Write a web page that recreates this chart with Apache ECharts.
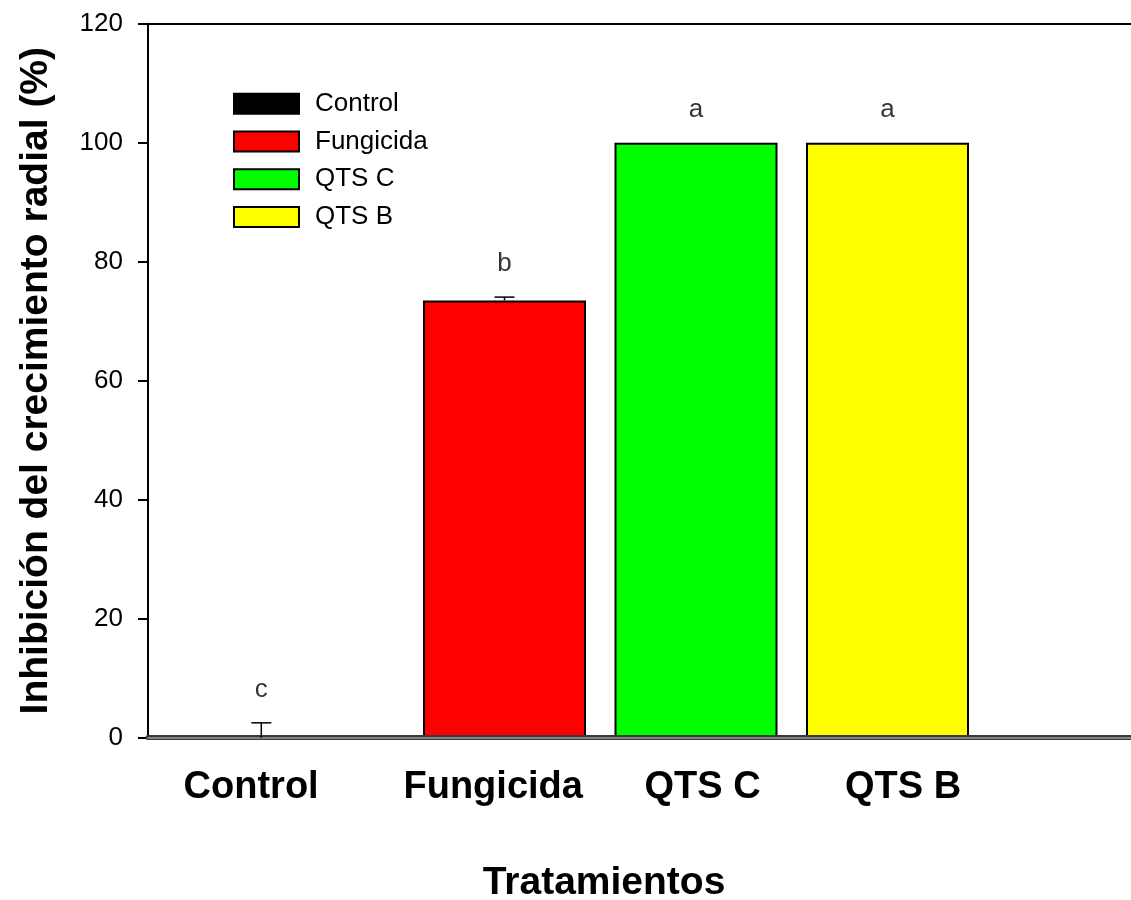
<!DOCTYPE html>
<html>
<head>
<meta charset="utf-8">
<script src="https://cdn.jsdelivr.net/npm/echarts@6/dist/echarts.min.js"></script>
<style>
  html, body { margin: 0; padding: 0; background: #fff; }
  #chart { width: 1131px; height: 900px; }
</style>
</head>
<body>
<div id="chart"></div>
<script>
// ---- Data ----
const categories = ['Control', 'Fungicida', 'QTS C', 'QTS B'];
const means = [0, 73.5, 100, 100];
const errors = [2.5, 0.55, 0, 0];
const letters = ['c', 'b', 'a', 'a'];
const barX = [0.73, 2, 3, 4];               // bar centres on the x scale
const labelX = [0.677, 1.941, 3.034, 4.081]; // category label centres on the x scale
const colors = ['#000000', '#ff0000', '#00ff00', '#ffff00'];
const yTicks = { min: 0, max: 120, interval: 20 };
const xRange = { min: 0.1384, max: 5.2715 };

const FONT = "'Liberation Sans', Arial, sans-serif";

const chart = echarts.init(document.getElementById('chart'), null, { renderer: 'canvas' });

const barSeries = categories.map((name, i) => ({
  name: name,
  type: 'bar',
  xAxisIndex: 0,
  barWidth: 163,
  barGap: '-100%',
  itemStyle: { color: colors[i], borderColor: '#000', borderWidth: 2 },
  data: [[barX[i], means[i]]],
  z: 2
}));

const errSeries = {
  type: 'custom',
  name: 'err',
  xAxisIndex: 0,
  z: 5,
  data: categories.map((c, i) => [barX[i], means[i], errors[i]]),
  renderItem: function (params, api) {
    const x = api.value(0), m = api.value(1), e = api.value(2);
    if (!e) return null;
    const p0 = api.coord([x, m]);
    const p1 = api.coord([x, m + e]);
    const st = { stroke: '#000', lineWidth: 1.5 };
    return {
      type: 'group',
      children: [
        { type: 'line', shape: { x1: p0[0], y1: p0[1], x2: p1[0], y2: p1[1] }, style: st },
        { type: 'line', shape: { x1: p1[0] - 10, y1: p1[1], x2: p1[0] + 10, y2: p1[1] }, style: st }
      ]
    };
  }
};

const letterSeries = {
  type: 'scatter',
  name: 'letters',
  xAxisIndex: 0,
  symbolSize: 0,
  z: 6,
  data: categories.map((c, i) => ({ value: [barX[i], means[i] + errors[i]], label: { formatter: letters[i] } })),
  label: {
    show: true,
    position: 'top',
    distance: 20,
    fontFamily: FONT,
    fontSize: 26,
    color: '#000'
  },
  silent: true
};

const option = {
  animation: false,
  backgroundColor: '#fff',
  grid: { left: 148, right: 0, top: 23.7, bottom: 162.3, containLabel: false },
  title: {
    text: 'Tratamientos',
    left: 604,
    top: 864,
    textAlign: 'center',
    padding: 0,
    textStyle: { fontFamily: FONT, fontSize: 39, fontWeight: 'bold', color: '#000' }
  },
  legend: {
    data: categories,
    orient: 'vertical',
    left: 233,
    top: 90.7,
    itemWidth: 65,
    itemHeight: 20,
    itemGap: 11.8,
    icon: 'rect',
    padding: 0,
    textStyle: { fontFamily: FONT, fontSize: 26, color: '#000', lineHeight: 20, padding: [0, 0, 0, 11] }
  },
  xAxis: [
    {
      type: 'value',
      position: 'bottom',
      min: xRange.min,
      max: xRange.max,
      splitLine: { show: false },
      axisTick: { show: false },
      axisLine: { show: true, onZero: false, lineStyle: { color: '#3a3a3a', width: 5 } },
      axisLabel: {
        show: true,
        customValues: labelX,
        formatter: function (v) {
          let best = 0, d = Infinity;
          labelX.forEach((lx, i) => { if (Math.abs(lx - v) < d) { d = Math.abs(lx - v); best = i; } });
          return categories[best];
        },
        margin: 31,
        fontFamily: FONT,
        fontSize: 38,
        fontWeight: 'bold',
        color: '#000'
      },
      z: 3
    },
    {
      type: 'value',
      position: 'top',
      min: xRange.min,
      max: xRange.max,
      splitLine: { show: false },
      axisTick: { show: false },
      axisLabel: { show: false },
      axisLine: { show: true, onZero: false, lineStyle: { color: '#000', width: 2 } }
    },
    {
      type: 'value',
      position: 'bottom',
      min: xRange.min,
      max: xRange.max,
      splitLine: { show: false },
      axisTick: { show: false },
      axisLabel: { show: false },
      axisLine: { show: true, onZero: false, lineStyle: { color: '#9a9a9a', width: 1.5 } },
      z: 4
    }
  ],
  yAxis: {
    type: 'value',
    min: yTicks.min,
    max: yTicks.max,
    interval: yTicks.interval,
    name: 'Inhibición del crecimiento radial (%)',
    nameLocation: 'middle',
    nameGap: 92,
    nameTextStyle: { fontFamily: FONT, fontSize: 39, fontWeight: 'bold', color: '#000' },
    splitLine: { show: false },
    axisLine: { show: true, lineStyle: { color: '#000', width: 2 } },
    axisTick: { show: true, inside: false, length: 10, lineStyle: { color: '#000', width: 2 } },
    axisLabel: { margin: 25, fontFamily: FONT, fontSize: 26, color: '#000' }
  },
  series: barSeries.concat([errSeries, letterSeries])
};

chart.setOption(option);
</script>
</body>
</html>
